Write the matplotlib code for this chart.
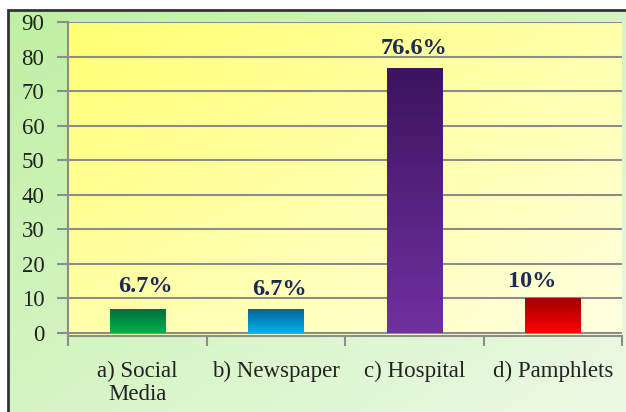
import matplotlib.pyplot as plt
import numpy as np
from matplotlib.colors import LinearSegmentedColormap
from matplotlib.patches import Rectangle

categories = ['a) Social\nMedia', 'b) Newspaper', 'c) Hospital', 'd) Pamphlets']
values = [6.7, 6.7, 76.6, 10]
labels = ['6.7%', '6.7%', '76.6%', '10%']
yticks = [0, 10, 20, 30, 40, 50, 60, 70, 80, 90]

# (top colour, bottom colour) for each bar
bar_colors = [('#00703a', '#00b050'),
              ('#006496', '#00b0f0'),
              ('#3c145f', '#7030a0'),
              ('#a00000', '#ff0000')]
# label offsets in points (dx, dy)
label_offsets = [(6, 9), (3, 7), (0, 7), (-15, 4)]


def diag_gradient(c1, c2, n=200):
    cmap = LinearSegmentedColormap.from_list('g', [c1, c2])
    x = np.linspace(0, 1, n)
    g = (x[None, :] + x[:, None]) / 2
    return cmap(g)


def main():
    plt.rcParams['font.family'] = ['Liberation Serif', 'DejaVu Serif']
    fig = plt.figure(figsize=(6.26, 4.12), dpi=100)
    fig.patch.set_facecolor('white')

    # green chart-area background with dark border at top/left
    bx0, by1 = 8 / 626, 1 - 10 / 412
    bg = fig.add_axes([bx0, -0.01, 1.02 - bx0, by1 + 0.01], zorder=-5)
    bg.imshow(diag_gradient('#bff0a2', '#ecf9e6'), aspect='auto',
              extent=[0, 1, 0, 1], origin='upper')
    bg.set_xlim(0, 1)
    bg.set_ylim(0, 1)
    bg.axis('off')
    fig.add_artist(Rectangle((bx0, -0.05), 1.1, by1 + 0.05, transform=fig.transFigure,
                             fill=False, edgecolor='#333333', linewidth=2, zorder=10))

    ax = fig.add_axes([68 / 626, 1 - 336 / 412, 554 / 626, 314 / 412])
    ax.set_facecolor('none')
    x = np.arange(len(categories))
    ax.set_xlim(-0.5, len(categories) - 0.5)
    ax.set_ylim(-1, 90)

    # yellow plot-area gradient
    ax.imshow(diag_gradient('#ffff72', '#ffffe2'), aspect='auto',
              extent=[-0.5, len(categories) - 0.5, -1, 90], origin='upper', zorder=0)

    for y in yticks:
        ax.axhline(y, color='#8c8c8c', linewidth=1.5, zorder=1)

    bars = ax.bar(x, values, width=0.4, color='none', zorder=2)
    for b, (ctop, cbot) in zip(bars, bar_colors):
        cmap = LinearSegmentedColormap.from_list('b', [ctop, cbot])
        grad = cmap(np.linspace(0, 1, 100))[:, None, :]
        ax.imshow(grad, aspect='auto', origin='upper', zorder=3,
                  extent=[b.get_x(), b.get_x() + b.get_width(), 0, b.get_height()])

    for xi, v, lab, (dx, dy) in zip(x, values, labels, label_offsets):
        ax.annotate(lab, (xi, v), xytext=(dx, dy), textcoords='offset points',
                    ha='center', va='bottom', fontsize=17.5, fontweight='bold',
                    color='#1c2a55', zorder=5)

    ax.set_yticks(yticks)
    ax.set_yticklabels([str(t) for t in yticks], fontsize=16.5, color='#222222')
    ax.set_xticks(x)
    ax.set_xticklabels(categories, fontsize=16.5, color='#222222', linespacing=1.1)
    ax.set_xticks(np.arange(-0.5, len(categories)), minor=True)
    ax.tick_params(axis='x', which='major', length=0, pad=18)
    ax.tick_params(axis='x', which='minor', length=7, width=1.5, color='#8c8c8c')
    ax.tick_params(axis='y', length=8, width=1.5, color='#8c8c8c', pad=9)

    for s in ['top', 'right']:
        ax.spines[s].set_visible(False)
    for s in ['left', 'bottom']:
        ax.spines[s].set_color('#8c8c8c')
        ax.spines[s].set_linewidth(1.5)

    plt.savefig('out.png', dpi=100)


if __name__ == "__main__":
    main()
